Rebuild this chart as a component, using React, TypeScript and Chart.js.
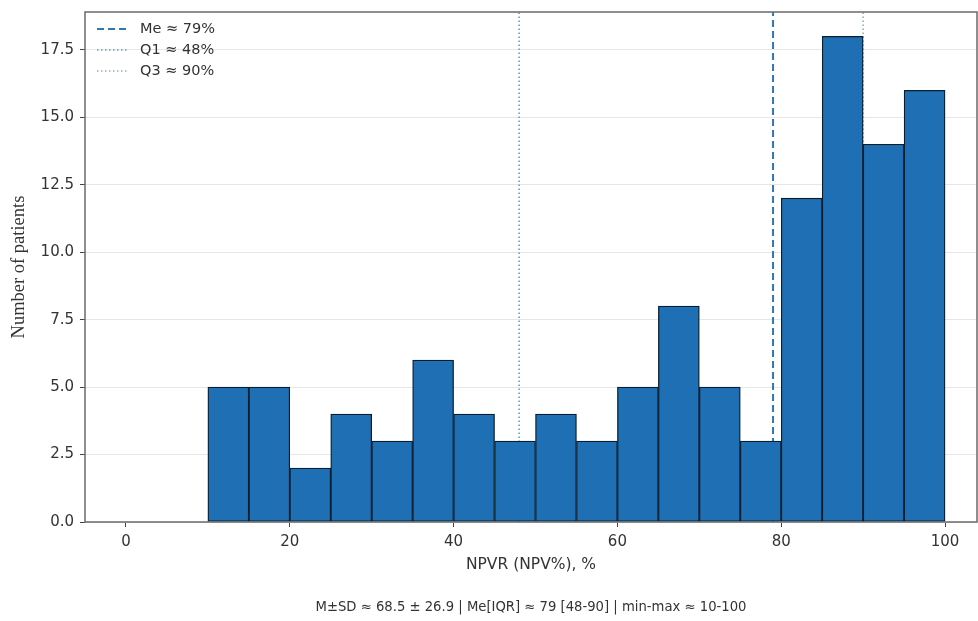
import React, { useEffect, useRef } from "react";
import { Chart, registerables } from "chart.js";

Chart.register(...registerables);

// ---- data ----
const BIN_STARTS = [10, 15, 20, 25, 30, 35, 40, 45, 50, 55, 60, 65, 70, 75, 80, 85, 90, 95];
const BIN_WIDTH = 5;
const COUNTS = [5, 5, 2, 4, 3, 6, 4, 3, 4, 3, 5, 8, 5, 3, 12, 18, 14, 16];

const MEDIAN = 79;
const Q1 = 48;
const Q3 = 90;
const REF_VALUES = [MEDIAN, Q1, Q3];
const REF_LABELS = ["Me ≈ 79%", "Q1 ≈ 48%", "Q3 ≈ 90%"];
const REF_COLORS = ["#2f78b0", "#5aa8bb", "#8bb6a6"];
const REF_DASHES = [[7, 4], [1.5, 2.5], [1.5, 2.5]];
const REF_WIDTHS = [2, 1.6, 1.6];

const X_TICKS = [0, 20, 40, 60, 80, 100];
const Y_TICKS = [0, 2.5, 5, 7.5, 10, 12.5, 15, 17.5];
const X_MIN = -5;
const X_MAX = 103.9;
const Y_MAX = 18.9;

const X_LABEL = "NPVR (NPV%), %";
const Y_LABEL = "Number of patients";
const CAPTION = "M±SD ≈ 68.5 ± 26.9 | Me[IQR] ≈ 79 [48-90] | min-max ≈ 10-100";

const SANS = "'DejaVu Sans', sans-serif";

export default function App() {
  const ref = useRef<HTMLCanvasElement | null>(null);

  useEffect(() => {
    if (!ref.current) return;
    Chart.defaults.font.family = SANS;

    const framePlugin = {
      id: "frameAndExtras",
      afterDraw(chart: any) {
        const { ctx, chartArea } = chart;
        ctx.save();
        // frame
        ctx.strokeStyle = "#6a6a6a";
        ctx.lineWidth = 1.5;
        ctx.setLineDash([]);
        ctx.strokeRect(chartArea.left, chartArea.top, chartArea.right - chartArea.left, chartArea.bottom - chartArea.top);
        // legend
        const lx = chartArea.left + 12;
        const ly = chartArea.top + 17;
        const rowH = 21;
        ctx.font = `14.5px ${SANS}`;
        ctx.textBaseline = "middle";
        ctx.textAlign = "left";
        REF_LABELS.forEach((lab, i) => {
          const y = ly + i * rowH;
          ctx.beginPath();
          ctx.strokeStyle = REF_COLORS[i];
          ctx.lineWidth = REF_WIDTHS[i];
          ctx.setLineDash(REF_DASHES[i]);
          ctx.moveTo(lx, y);
          ctx.lineTo(lx + 31, y);
          ctx.stroke();
          ctx.setLineDash([]);
          ctx.fillStyle = "#333";
          ctx.fillText(lab, lx + 43, y);
        });
        // caption
        ctx.font = `13.2px ${SANS}`;
        ctx.textAlign = "center";
        ctx.fillStyle = "#333";
        ctx.fillText(CAPTION, 531, 608);
        ctx.restore();
      },
    };

    const refDatasets = REF_VALUES.map((v, i) => ({
      type: "line" as const,
      label: REF_LABELS[i],
      data: [
        { x: v, y: 0 },
        { x: v, y: Y_MAX },
      ],
      borderColor: REF_COLORS[i],
      borderWidth: REF_WIDTHS[i],
      borderDash: REF_DASHES[i],
      pointRadius: 0,
      fill: false,
      order: 1,
    }));

    const chart = new Chart(ref.current, {
      type: "bar",
      data: {
        datasets: [
          {
            type: "bar" as const,
            label: "Patients",
            data: COUNTS.map((c, i) => ({ x: BIN_STARTS[i] + BIN_WIDTH / 2, y: c })),
            backgroundColor: "#1f6fb4",
            borderColor: "#0a1e31",
            borderWidth: 1.3,
            borderSkipped: false,
            barPercentage: 1,
            categoryPercentage: 1,
            order: 0,
          },
          ...refDatasets,
        ] as any,
      },
      options: {
        responsive: false,
        animation: false,
        layout: { padding: { left: 0, top: 12, right: 1, bottom: 39 } },
        plugins: {
          legend: { display: false },
          tooltip: { enabled: false },
        },
        scales: {
          x: {
            type: "linear",
            min: X_MIN,
            max: X_MAX,
            offset: false,
            afterBuildTicks: (s: any) => {
              s.ticks = X_TICKS.map((v) => ({ value: v }));
            },
            afterFit: (s: any) => {
              s.height = 60;
              s.paddingLeft = 0;
              s.paddingRight = 0;
            },
            grid: {
              offset: false,
              drawOnChartArea: false,
              drawTicks: true,
              tickLength: 5,
              tickColor: "#444",
            },
            border: { display: false },
            ticks: {
              padding: 6,
              color: "#333",
              font: { size: 15 },
              maxRotation: 0,
              callback: (v: any) => String(v),
            },
            title: {
              display: true,
              text: X_LABEL,
              color: "#333",
              font: { size: 15.5 },
              padding: { top: 0, bottom: 8 },
            },
          },
          y: {
            type: "linear",
            min: 0,
            max: Y_MAX,
            afterBuildTicks: (s: any) => {
              s.ticks = Y_TICKS.map((v) => ({ value: v }));
            },
            afterFit: (s: any) => {
              s.width = 85;
              s.paddingTop = 0;
              s.paddingBottom = 0;
            },
            grid: {
              color: "#e6e6e6",
              lineWidth: 1,
              drawTicks: true,
              tickLength: 5,
              tickColor: "#444",
            },
            border: { display: false },
            ticks: {
              padding: 6,
              color: "#333",
              font: { size: 15 },
              callback: (v: any) => Number(v).toFixed(1),
            },
            title: {
              display: true,
              text: Y_LABEL,
              color: "#333",
              font: { family: "'Liberation Serif', serif", size: 18.5 },
              padding: { top: 8, bottom: 0 },
            },
          },
        },
      },
      plugins: [framePlugin],
    } as any);

    return () => chart.destroy();
  }, []);

  return (
    <div style={{ position: "absolute", left: 0, top: 0, width: 978, height: 621, background: "#fff" }}>
      <canvas ref={ref} width={978} height={621} style={{ display: "block" }} />
    </div>
  );
}
